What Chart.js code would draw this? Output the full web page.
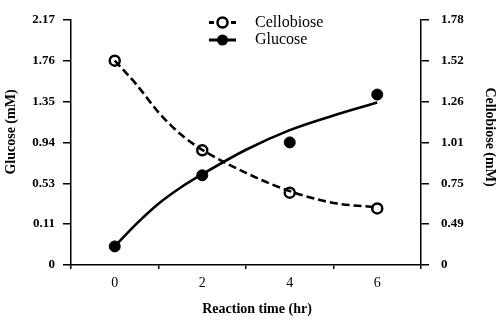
<!DOCTYPE html>
<html>
<head>
<meta charset="utf-8">
<script src="https://cdn.jsdelivr.net/npm/chart.js@4/dist/chart.umd.min.js"></script>
<style>
  body { margin: 0; background: #fff; }
  #wrap { width: 500px; height: 327px; }
</style>
</head>
<body>
<div id="wrap"><canvas id="reactionChart" width="500" height="327"></canvas></div>
<script>
// measured points
const timeHr = [0, 2, 4, 6];
const glucoseMM = [0.05, 0.61, 0.94, 1.42];
const cellobioseMM = [1.52, 0.96, 0.69, 0.59];

// fitted curves
const fitTimeHr = [0, 0.5, 1, 1.5, 2, 3, 4, 5, 6];
const glucoseFitMM = [0.05, 0.115, 0.32, 0.484, 0.62, 0.866, 1.063, 1.21, 1.34];
const cellobioseFitMM = [1.52, 1.367, 1.194, 1.061, 0.963, 0.816, 0.70, 0.625, 0.597];

// axis tick labels (evenly spaced on the axes)
const timeTicks = [0, 2, 4, 6];
const glucoseTicks = [0, 0.11, 0.53, 0.94, 1.35, 1.76, 2.17];
const cellobioseTicks = [0, 0.49, 0.75, 1.01, 1.26, 1.52, 1.78];

const serif = '"Liberation Serif", "Times New Roman", serif';

// the axes have evenly spaced tick marks, so map a value onto tick position
function toPos(v, ticks) {
  for (let i = 1; i < ticks.length; i++) {
    if (v <= ticks[i]) {
      return i - 1 + (v - ticks[i - 1]) / (ticks[i] - ticks[i - 1]);
    }
  }
  return ticks.length - 1;
}

const pts = (xs, ys, ticks) => xs.map((x, i) => ({ x: x, y: toPos(ys[i], ticks) }));

// legend (line + marker) and axis titles, placed like the original figure
const figureText = {
  id: 'figureText',
  afterDraw(chart) {
    const ctx = chart.ctx;
    ctx.save();
    ctx.strokeStyle = '#000';
    ctx.fillStyle = '#000';

    // Cellobiose: short dashes either side of an open circle
    ctx.lineWidth = 3;
    ctx.beginPath();
    ctx.moveTo(209, 22.5); ctx.lineTo(214, 22.5);
    ctx.moveTo(231, 22.5); ctx.lineTo(236, 22.5);
    ctx.stroke();
    ctx.beginPath();
    ctx.arc(222.5, 22.5, 5, 0, Math.PI * 2);
    ctx.fillStyle = '#fff';
    ctx.fill();
    ctx.lineWidth = 2.5;
    ctx.stroke();

    // Glucose: solid line with filled circle
    ctx.lineWidth = 3;
    ctx.beginPath();
    ctx.moveTo(209, 40); ctx.lineTo(236, 40);
    ctx.stroke();
    ctx.beginPath();
    ctx.arc(222.5, 40, 5.5, 0, Math.PI * 2);
    ctx.fillStyle = '#000';
    ctx.fill();

    ctx.font = '16px ' + serif;
    ctx.textBaseline = 'middle';
    ctx.textAlign = 'left';
    ctx.fillText('Cellobiose', 255, 22.5);
    ctx.fillText('Glucose', 255, 40);

    // axis titles
    ctx.font = 'bold 14px ' + serif;
    ctx.textAlign = 'center';
    ctx.fillText('Reaction time (hr)', 257, 309);

    ctx.save();
    ctx.translate(11, 132);
    ctx.rotate(-Math.PI / 2);
    ctx.fillText('Glucose (mM)', 0, 0);
    ctx.restore();

    ctx.save();
    ctx.translate(490, 137);
    ctx.rotate(Math.PI / 2);
    ctx.fillText('Cellobiose (mM)', 0, 0);
    ctx.restore();

    ctx.restore();
  }
};

const ctx = document.getElementById('reactionChart').getContext('2d');
new Chart(ctx, {
  type: 'scatter',
  data: {
    datasets: [
      {
        label: 'Glucose fit',
        data: pts(fitTimeHr, glucoseFitMM, glucoseTicks),
        yAxisID: 'yL',
        showLine: true,
        borderColor: '#000',
        borderWidth: 2.6,
        pointRadius: 0,
        cubicInterpolationMode: 'monotone',
      },
      {
        label: 'Cellobiose fit',
        data: pts(fitTimeHr, cellobioseFitMM, cellobioseTicks),
        yAxisID: 'yR',
        showLine: true,
        borderColor: '#000',
        borderWidth: 2.6,
        borderDash: [8, 4],
        pointRadius: 0,
        cubicInterpolationMode: 'monotone',
      },
      {
        label: 'Glucose',
        data: pts(timeHr, glucoseMM, glucoseTicks),
        yAxisID: 'yL',
        pointRadius: 5.5,
        pointBackgroundColor: '#000',
        pointBorderColor: '#000',
        pointBorderWidth: 1,
      },
      {
        label: 'Cellobiose',
        data: pts(timeHr, cellobioseMM, cellobioseTicks),
        yAxisID: 'yR',
        pointRadius: 5,
        pointBackgroundColor: '#fff',
        pointBorderColor: '#000',
        pointBorderWidth: 2.5,
      },
    ],
  },
  options: {
    responsive: false,
    animation: false,
    layout: { padding: { top: 16, left: 0, right: 0, bottom: 0 } },
    plugins: {
      legend: { display: false },
      tooltip: { enabled: false },
    },
    scales: {
      x: {
        type: 'linear',
        min: -1,
        max: 7,
        afterFit(scale) { scale.height = 62; },
        afterBuildTicks(scale) {
          scale.ticks = [-1, 0, 1, 2, 3, 4, 5, 6, 7].map(v => ({ value: v }));
        },
        border: { color: '#000', width: 1.5 },
        grid: {
          drawOnChartArea: false,
          tickLength: 4,
          lineWidth: 1.5,
          color: c => (timeTicks.includes(c.tick.value) ? 'rgba(0,0,0,0)' : '#000'),
        },
        ticks: {
          autoSkip: false,
          maxRotation: 0,
          padding: 6,
          color: '#000',
          font: { family: serif, size: 14 },
          callback: v => (timeTicks.includes(v) ? String(v) : ''),
        },
      },
      yL: {
        type: 'linear',
        position: 'left',
        min: 0,
        max: 6,
        afterFit(scale) { scale.width = 71; },
        afterBuildTicks(scale) {
          scale.ticks = glucoseTicks.map((t, i) => ({ value: i }));
        },
        border: { color: '#000', width: 1.5 },
        grid: { drawOnChartArea: false, tickLength: 8, lineWidth: 1.5, color: '#000' },
        ticks: {
          padding: 8,
          color: '#000',
          font: { family: serif, size: 13, weight: 'bold' },
          callback: v => String(glucoseTicks[v]),
        },
      },
      yR: {
        type: 'linear',
        position: 'right',
        min: 0,
        max: 6,
        afterFit(scale) { scale.width = 79; },
        afterBuildTicks(scale) {
          scale.ticks = cellobioseTicks.map((t, i) => ({ value: i }));
        },
        border: { color: '#000', width: 1.5 },
        grid: { drawOnChartArea: false, tickLength: 8, lineWidth: 1.5, color: '#000' },
        ticks: {
          padding: 12,
          color: '#000',
          font: { family: serif, size: 13, weight: 'bold' },
          callback: v => String(cellobioseTicks[v]),
        },
      },
    },
  },
  plugins: [figureText],
});
</script>
</body>
</html>
